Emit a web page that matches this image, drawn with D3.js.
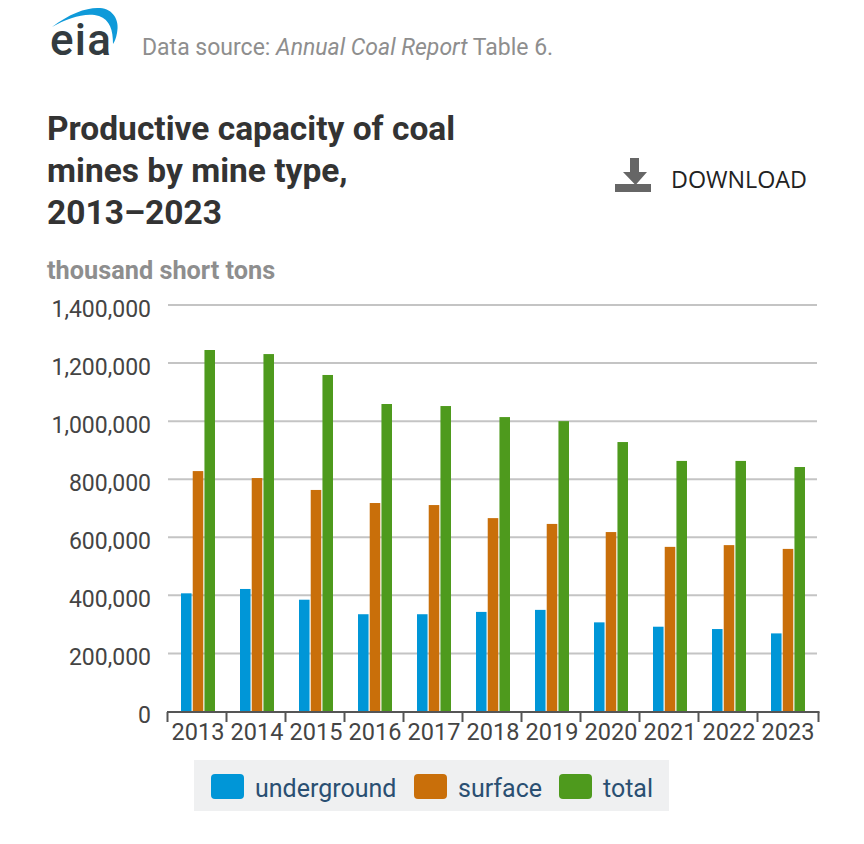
<!DOCTYPE html>
<html><head><meta charset="utf-8">
<script src="https://cdn.jsdelivr.net/npm/d3@7/dist/d3.min.js"></script>
<style>html,body{margin:0;padding:0;background:#fff}svg{display:block}text{font-family:Roboto,sans-serif}</style>
</head><body><svg id="c" width="864" height="844"></svg>
<script>
const years=["2013","2014","2015","2016","2017","2018","2019","2020","2021","2022","2023"];
const underground=[407000,422000,385000,335000,335000,343000,350000,307000,292000,284000,269000];
const surface=[828000,804000,763000,718000,711000,666000,646000,618000,567000,573000,560000];
const total=[1245000,1231000,1159000,1059000,1052000,1014000,1000000,928000,863000,863000,842000];
const seriesNames=["underground","surface","total"];
const seriesColors=["#0096d7","#c96f0a","#4e9a1d"];
const yTicks=[0,200000,400000,600000,800000,1000000,1200000,1400000];
const titleLines=["Productive capacity of coal","mines by mine type,","2013–2023"];
const seriesValues=[underground,surface,total];

const svg=d3.select("#c");
const x=d3.scaleBand().domain(years).range([167.5,816.5]);
const inner=d3.scaleBand().domain(seriesNames).range([13.5,47.5]).paddingInner(0.1);
const y=d3.scaleLinear().domain([0,1400000]).range([711.5,305]);

// logo
const logo=svg.append("g");
logo.append("path").attr("d","M52 27 C70 13 88 7 100 8 C113 9 120 20 117 33 C116 38 115 41 113 44 C113 30 110 20 99 16 C86 12 68 18 52 27 Z").attr("fill","#0f9ad9");
logo.append("text").attr("x",50).attr("y",54.5).attr("font-size",44).attr("font-weight",500).attr("letter-spacing",1.2).attr("fill","#333b40").text("eia");
// source
const src=svg.append("text").attr("x",142).attr("y",55).attr("font-size",23).attr("fill","#8e8e8e");
src.append("tspan").text("Data source: ");
src.append("tspan").attr("font-style","italic").text("Annual Coal Report");
src.append("tspan").text(" Table 6.");
// title
svg.append("g").selectAll("text").data(titleLines).join("text")
  .attr("x",47).attr("y",(d,i)=>140+i*42).attr("font-size",33.5).attr("font-weight",700).attr("fill","#333333").text(d=>d);
svg.append("text").attr("x",47).attr("y",279).attr("font-size",25.3).attr("font-weight",700).attr("fill","#8e8e8e").text("thousand short tons");
// download
svg.append("path").attr("d","M630 158H639V172H647L636 184.5H635L623 172H630Z").attr("fill","#666");
svg.append("rect").attr("x",615).attr("y",184).attr("width",36).attr("height",8).attr("fill","#666");
svg.append("text").attr("x",671).attr("y",188).attr("font-size",23.3).attr("fill","#222").style("font-family","'Open Sans'").text("DOWNLOAD");

// grid + y axis
const yAxis=d3.axisLeft(y).tickValues(yTicks).tickSize(0).tickPadding(0).tickFormat(d3.format(","));
const gy=svg.append("g").attr("transform","translate(151,0)").call(yAxis);
gy.select(".domain").remove();
gy.selectAll("text").attr("font-size",23).attr("fill","#444").attr("font-family","Roboto").attr("dy","0.49em");
svg.append("g").selectAll("line").data(yTicks.filter(d=>d>0)).join("line")
  .attr("x1",168).attr("x2",817).attr("y1",d=>y(d)).attr("y2",d=>y(d)).attr("stroke","#c4c4c4").attr("stroke-width",2);
// bars
svg.append("g").selectAll("g").data(seriesNames).join("g").attr("fill",(d,i)=>seriesColors[i])
 .selectAll("rect").data((d,i)=>years.map((yr,j)=>({yr,s:d,v:seriesValues[i][j]}))).join("rect")
 .attr("x",d=>x(d.yr)+inner(d.s)).attr("width",inner.bandwidth()).attr("y",d=>y(d.v)).attr("height",d=>y(0)-y(d.v));
// x axis
const xAxis=d3.axisBottom(x).tickSize(0).tickPadding(0);
const gx=svg.append("g").attr("transform","translate(1,711.5)").call(xAxis);
gx.select(".domain").remove();
gx.selectAll("text").attr("font-size",23.5).attr("fill","#444").attr("font-family","Roboto").attr("y",28.5).attr("dy",0);
svg.append("line").attr("x1",167).attr("x2",819.5).attr("y1",712).attr("y2",712).attr("stroke","#555").attr("stroke-width",2);
svg.append("g").selectAll("line").data(years.concat(["end"])).join("line")
 .attr("x1",d=>d==="end"?818.5:x(d)).attr("x2",d=>d==="end"?818.5:x(d)).attr("y1",712).attr("y2",722).attr("stroke","#555").attr("stroke-width",2);
// legend
svg.append("rect").attr("x",194).attr("y",760).attr("width",475).attr("height",51).attr("fill","#eff0f1");
const legX=[211,414,559], legT=[255,458,603];
const lg=svg.append("g").selectAll("g").data(seriesNames).join("g");
lg.append("rect").attr("x",(d,i)=>legX[i]).attr("y",774).attr("width",33).attr("height",25).attr("rx",4).attr("fill",(d,i)=>seriesColors[i]);
lg.append("text").attr("x",(d,i)=>legT[i]).attr("y",797).attr("font-size",25).attr("fill","#2a4f72").text(d=>d);
</script></body></html>
